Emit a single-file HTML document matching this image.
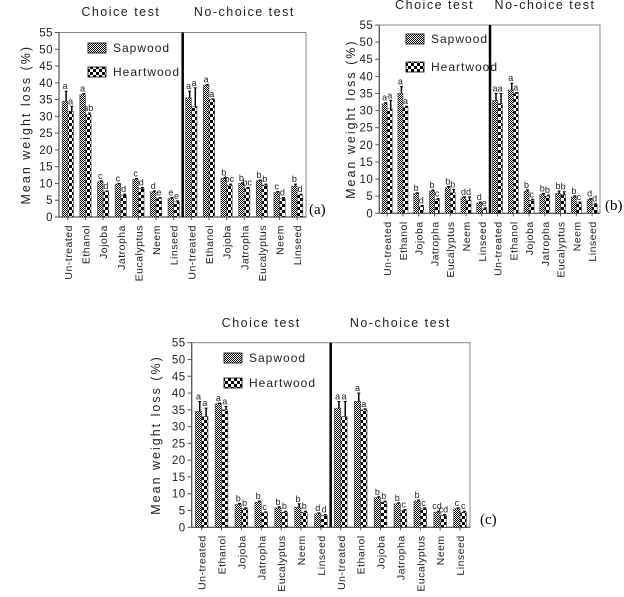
<!DOCTYPE html>
<html><head><meta charset="utf-8"><style>
body{margin:0;background:#fff}
svg{display:block;font-family:"Liberation Sans",Arial,sans-serif}
</style></head><body>
<svg id="fig" width="624" height="597" viewBox="0 0 624 597">
<defs>
<pattern id="sap" width="2" height="2" patternUnits="userSpaceOnUse"><rect width="2" height="2" fill="#fff"/><rect width="1" height="1" fill="#000"/><rect x="1" y="1" width="1" height="1" fill="#000"/></pattern>
<pattern id="heart" width="6" height="6" patternUnits="userSpaceOnUse"><rect width="6" height="6" fill="#fff"/><rect width="3" height="3" fill="#000"/><rect x="3" y="3" width="3" height="3" fill="#000"/></pattern>
</defs>
</svg>
<script>
const categories=["Un-treated","Ethanol","Jojoba","Jatropha","Eucalyptus","Neem","Linseed","Un-treated","Ethanol","Jojoba","Jatropha","Eucalyptus","Neem","Linseed"];
const yTicks=[0,5,10,15,20,25,30,35,40,45,50,55];
const aSap=[34.5,36.5,10.5,9.8,11.2,7.5,5.5,35.5,39.3,11.5,10,10.8,7.3,9.2];
const aHeart=[31.5,30.5,7.5,6.5,8.5,5.5,4.5,33,35,9.5,8.5,9.5,5.5,6.5];
const aSapErr=[37.5,36.8,10.8,10,11.5,7.8,5.8,37.5,39.5,11.8,10.2,11,7.6,9.8];
const aHeartErr=[33,31,7.8,6.8,8.8,5.8,4.8,38.5,35.2,9.8,8.8,9.8,5.8,6.8];
const aSapLet=["a","a","c","c","c","d","e","a","a","b","b","b","c","b"];
const aHeartLet=["a","ab","d","d","d","e","e","a","a","bc","bc","b","d","d"];
const bSap=[32,35,5.8,6.5,7.5,4.5,3,33,36,6.5,5.5,5.8,4.8,4];
const bHeart=[30.5,31,2,4,6,3.8,1.3,32,35,3.8,5,5.5,3,2.5];
const bSapErr=[32.3,37,6,6.8,7.8,4.8,3.3,35,38,6.8,5.8,6.5,5.1,4.3];
const bHeartErr=[33,31.3,2.3,4.3,7,4.8,1.6,35,35.3,4.1,5.3,6.3,3.3,2.8];
const bSapLet=["a","a","b","b","b","d","d","a","a","b","b","b","b","d"];
const bHeartLet=["a","a","d","c","b","d","e","a","a","c","b","b","c","d"];
const cSap=[34.5,36.8,6.8,7.5,5.8,6,4,35.5,37.5,8.8,7,7.8,4.5,5.5];
const cHeart=[33,35,5.5,4.3,4.5,4.5,3.5,33,35,7.5,5,5.5,3.5,4.5];
const cSapErr=[37.5,37,7.1,7.8,6.1,7,4.3,37.5,40,9.1,7.3,8.1,4.8,5.8];
const cHeartErr=[35.5,36,5.8,4.6,4.8,4.8,3.8,37.5,35.3,7.8,5.3,5.8,3.8,4.8];
const cSapLet=["a","a","b","b","b","b","d","a","a","b","b","b","cd","c"];
const cHeartLet=["a","a","b","c","b","b","d","a","a","b","c","c","cd","c"];

const svg=document.getElementById('fig');
const NS='http://www.w3.org/2000/svg';
function mk(tag,attrs,parent,text){const e=document.createElementNS(NS,tag);for(const k in attrs)e.setAttribute(k,attrs[k]);if(text!==undefined)e.textContent=text;(parent||svg).appendChild(e);return e;}

const panels=[
 {id:'a',L:59,R:306,T:32.5,B:217,D:182.7,ty:16,lx:88,ly1:43,ly2:67,tag:'(a)',tagx:309,tagy:214,ylx:30,sap:aSap,heart:aHeart,se:aSapErr,he:aHeartErr,sl:aSapLet,hl:aHeartLet},
 {id:'b',L:379.3,R:600,T:25,B:213.3,D:490,ty:9,lx:406,ly1:34,ly2:62,tag:'(b)',tagx:605,tagy:210,ylx:355,sap:bSap,heart:bHeart,se:bSapErr,he:bHeartErr,sl:bSapLet,hl:bHeartLet},
 {id:'c',L:191.7,R:470,T:342.7,B:527.3,D:330.7,ty:327,lx:224,ly1:353,ly2:378,tag:'(c)',tagx:480,tagy:524,ylx:160,sap:cSap,heart:cHeart,se:cSapErr,he:cHeartErr,sl:cSapLet,hl:cHeartLet}
];

panels.forEach(p=>{
 const g=mk('g',{});
 
 
 const y=v=>p.B-(v/55)*(p.B-p.T);
 const gw=(p.R-p.L)/14;
 const x=i=>p.L+gw*(i+0.5);
 const bw=gw*0.32;
 const fr=mk('rect',{x:p.L,y:p.T,width:p.R-p.L,height:p.B-p.T,fill:'none',stroke:'#888','stroke-width':1},g);
 
 const ax=mk('line',{x1:p.L,y1:p.T,x2:p.L,y2:p.B,stroke:'#555','stroke-width':1.2},g);
 
 const bx=mk('line',{x1:p.L,y1:p.B,x2:p.R,y2:p.B,stroke:'#555','stroke-width':1.2},g);
 
 const dv=mk('line',{x1:p.D,y1:p.T,x2:p.D,y2:p.B,stroke:'#000','stroke-width':2.5},g);
 
 yTicks.forEach(t=>{
  mk('line',{x1:p.L-4,y1:y(t),x2:p.L,y2:y(t),stroke:'#555'},g);
  const tl=mk('text',{x:p.L-6,y:y(t)+4,'text-anchor':'end','font-size':11.5,'letter-spacing':0.5,fill:'#222'},g,t);
  
 });
 const yl=mk('text',{x:p.ylx,y:(p.T+p.B)/2,'text-anchor':'middle','font-size':12.5,'letter-spacing':2,fill:'#222',transform:`rotate(-90 ${p.ylx} ${(p.T+p.B)/2})`},g,'Mean weight loss (%)');
 
 const t1=mk('text',{x:(p.L+p.D)/2,y:p.ty,'text-anchor':'middle','font-size':12.5,'letter-spacing':1.5,fill:'#222'},g,'Choice test');
 
 const t2=mk('text',{x:(p.D+p.R)/2,y:p.ty,'text-anchor':'middle','font-size':12.5,'letter-spacing':1.5,fill:'#222'},g,'No-choice test');
 
 [['sap','Sapwood',p.ly1],['heart','Heartwood',p.ly2]].forEach(l=>{
  const r=mk('rect',{x:p.lx,y:l[2],width:18,height:10,fill:`url(#${l[0]})`,stroke:'#000','stroke-width':0.8},g);
  
  const tx=mk('text',{x:p.lx+25,y:l[2]+9,'font-size':12,'letter-spacing':1,fill:'#222'},g,l[1]);
  
 });
 const tg=mk('text',{x:p.tagx,y:p.tagy,'font-size':15,'font-family':'Liberation Serif,serif',fill:'#000'},g,p.tag);
 
 categories.forEach((c,i)=>{
  const cx=x(i);
  mk('line',{x1:cx,y1:p.B,x2:cx,y2:p.B+3,stroke:'#555'},g);
  const ct=mk('text',{x:cx+4,y:p.B+8,'text-anchor':'end','font-size':10.5,'letter-spacing':0.5,fill:'#222',transform:`rotate(-90 ${cx+4} ${p.B+8})`},g,c);
  
  [[p.sap,p.se,p.sl,'sap',cx-bw],[p.heart,p.he,p.hl,'heart',cx]].forEach(s=>{
   const v=s[0][i],e=s[1][i];
   const b=mk('rect',{x:s[4],y:y(v),width:bw,height:p.B-y(v),fill:`url(#${s[3]})`,stroke:'#444','stroke-width':0.6},g);
   
   const ex=s[4]+bw*0.7;
   const el=mk('line',{x1:ex,y1:y(v),x2:ex,y2:y(e),stroke:'#000','stroke-width':1.5},g);
   
   mk('line',{x1:ex-1.5,y1:y(e),x2:ex+1.5,y2:y(e),stroke:'#000','stroke-width':1},g);
   const lt=mk('text',{x:s[4]+bw/2,y:Math.min(y(e),y(v))-2,'text-anchor':'middle','font-size':9,fill:'#222'},g,s[2][i]);
   
  });
 });
});
</script>
</body></html>
